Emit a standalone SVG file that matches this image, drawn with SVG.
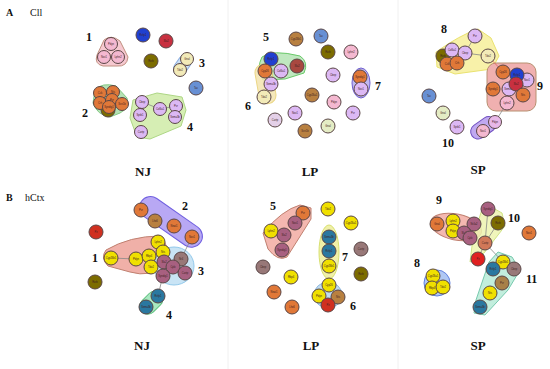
<svg xmlns="http://www.w3.org/2000/svg" width="550" height="369" viewBox="0 0 550 369">
<style>
.n circle{stroke:#5a4646;stroke-width:1}
.n text{font-family:"Liberation Sans",sans-serif;font-size:2.6px;fill:#402020;text-anchor:middle}
.pk{fill:#f4b8d0}.lv{fill:#dcb8f4}.or{fill:#e07838}.ol{fill:#7c6c00}.db{fill:#2040d0}.rd{fill:#c83040}
.yl{fill:#f0e000}.py{fill:#f2eab8}.mv{fill:#a86080}.tl{fill:#2a78a0}.sb{fill:#6890d4}.br{fill:#b88040}
.gr{fill:#e4ecc4}.gm{fill:#987878}.rr{fill:#e02020}
.lbl{font-family:"Liberation Serif",serif;font-weight:bold;font-size:12px;fill:#111}
.ttl{font-family:"Liberation Serif",serif;font-weight:bold;font-size:13px;fill:#111;text-anchor:middle}
.pan{font-family:"Liberation Serif",serif;font-size:10px;fill:#111}
.hull{stroke-width:1}
.conn line{stroke:#888;stroke-width:0.8}
</style>
<rect width="550" height="369" fill="#fff"/>
<line x1="228" y1="0" x2="228" y2="369" stroke="#f0f0f0"/>
<line x1="398" y1="0" x2="398" y2="369" stroke="#f0f0f0"/>
<text class="pan" x="6" y="16" font-weight="bold">A</text><text class="pan" x="30" y="16">Cll</text>
<text class="pan" x="6" y="201" font-weight="bold">B</text><text class="pan" x="25" y="201">hCtx</text>
<g id="hulls">
<path class="hull" d="M104,40 Q111,34 120,41 L128,57 Q127,67 117,66 L103,66 Q94,64 97,55 Z" fill="#f6c8d0" stroke="#c09080"/>
<rect class="hull" x="176" y="54" width="13" height="22" rx="6.5" transform="rotate(35 182 65)" fill="#cce0f4" stroke="#90b0e0"/>
<path class="hull" d="M95,90 Q102,82 116,86 L127,98 Q130,108 120,113 L110,117 Q97,115 93,103 Z" fill="#a8dca8" stroke="#70c070" opacity="0.85"/>
<path class="hull" d="M133,100 L157,93 L182,97 L186,110 L181,126 L150,139 L137,137 L130,118 Z" fill="#d0eca8" stroke="#a0d070" opacity="0.85"/>
<path class="hull" d="M262,57 Q272,49 300,56 Q309,62 304,73 L285,79 L263,80 Q256,68 262,57 Z" fill="#b4e4b4" stroke="#50c050" opacity="0.85"/>
<rect class="hull" x="257" y="64" width="17" height="40" rx="8.5" transform="rotate(-10 265 84)" fill="#f4e4b0" stroke="#e8d070" opacity="0.85"/>
<ellipse class="hull" cx="361" cy="83" rx="9" ry="15" fill="#c0b8f0" stroke="#7060d0"/>
<path class="hull" d="M436,52 Q460,35 478,29 L491,38 L499,56 L492,69 L455,74 L437,67 Z" fill="#f8f0a0" stroke="#e8e060" opacity="0.9"/>
<rect class="hull" x="487" y="63" width="49" height="48" rx="9" fill="#f0b0b0" stroke="#b89070"/>
<rect class="hull" x="479" y="118" width="15" height="28" rx="7.5" transform="rotate(55 489 127)" fill="#c0a8f0" stroke="#7050c0"/>
<rect class="hull" x="160" y="190" width="22" height="72" rx="11" transform="rotate(-55 167 224)" fill="#b8a8f4" stroke="#7060e0"/>
<path class="hull" d="M106,250 Q130,236 160,236 Q170,245 168,265 Q150,278 130,272 L108,266 Q100,258 106,250 Z" fill="#f0b0a8" stroke="#c08070"/>
<ellipse class="hull" cx="174" cy="266" rx="20" ry="19" fill="#c0e0f4" stroke="#80c0e8" opacity="0.85"/>
<rect class="hull" x="144" y="290" width="16" height="26" rx="8" transform="rotate(45 152 302)" fill="#a8e8c0" stroke="#60c080"/>
<path class="hull" d="M263,233 Q282,210 300,205 L311,208 L311,219 L287,257 Q278,262 268,249 Z" fill="#f4b8b0" stroke="#c08070"/>
<ellipse class="hull" cx="329" cy="252" rx="10" ry="27" fill="#f0f0a8" stroke="#d8e070"/>
<ellipse class="hull" cx="328" cy="295" rx="14" ry="13" fill="#c0dcf0" stroke="#90b8e0"/>
<ellipse class="hull" cx="456" cy="227" rx="26" ry="13" transform="rotate(12 456 227)" fill="#f4b8b0" stroke="#c08070"/>
<path class="hull" d="M484,203 L502,213 L505,226 L484,253 L470,262 L473,238 Z" fill="#eef4b0" stroke="#c8e070" opacity="0.85"/>
<ellipse class="hull" cx="437" cy="283" rx="13" ry="13" fill="#b0c8f4" stroke="#6080e0"/>
<path class="hull" d="M498,252 L512,257 L520,270 L508,290 L485,315 L474,313 L476,300 L489,262 Z" fill="#b8ecd8" stroke="#60c0a0" opacity="0.85"/>
</g>
<g class="conn" id="connectors">
<line x1="142" y1="102" x2="160" y2="109"/><line x1="160" y1="109" x2="176" y2="106"/>
<line x1="465" y1="53" x2="475" y2="36"/><line x1="465" y1="53" x2="488" y2="56"/>
<line x1="488" y1="56" x2="503" y2="72" style="stroke:#e06060"/>
<line x1="495" y1="122" x2="507" y2="103"/>
<line x1="111" y1="258" x2="136" y2="259"/>
<line x1="163" y1="275" x2="158" y2="296"/>
<line x1="192" y1="237" x2="181" y2="259"/>
<line x1="498" y1="223" x2="485" y2="243"/><line x1="485" y1="243" x2="478" y2="259"/>
<line x1="485" y1="243" x2="503" y2="262"/><line x1="488" y1="209" x2="485" y2="243"/>
</g>
<g class="n" id="a-nj-pdyn"><circle cx="111" cy="44" r="6.5" class="pk"/><text x="111" y="45">Pdyn</text></g>
<g class="n" id="a-nj-nov1"><circle cx="104" cy="57" r="6.5" class="pk"/><text x="104" y="58">Nov1</text></g>
<g class="n" id="a-nj-sdr"><circle cx="118" cy="57" r="6.5" class="pk"/><text x="118" y="58">Lphn2</text></g>
<g class="n" id="a-nj-blue"><circle cx="143" cy="35" r="7" class="db"/><text x="143" y="36">Rxfp1</text></g>
<g class="n" id="a-nj-red"><circle cx="166" cy="41" r="7" class="rd"/><text x="166" y="42">Sla2</text></g>
<g class="n" id="a-nj-olive"><circle cx="151" cy="61" r="7" class="ol"/><text x="151" y="62">Rorb</text></g>
<g class="n" id="a-nj-g3a"><circle cx="187" cy="59" r="6.5" class="py"/><text x="187" y="60">Gnal</text></g>
<g class="n" id="a-nj-g3b"><circle cx="180" cy="70" r="6.5" class="py"/><text x="180" y="71">Tdo2</text></g>
<g class="n" id="a-nj-tac"><circle cx="196" cy="88" r="7" class="sb"/><text x="196" y="89">Tac</text></g>
<g class="n" id="a-nj-o6"><circle cx="108" cy="110" r="7" class="ol"/></g>
<g class="n" id="a-nj-o1"><circle cx="100" cy="93" r="6.5" class="or"/><text x="100" y="94">Cck</text></g>
<g class="n" id="a-nj-o2"><circle cx="113" cy="92" r="6.5" class="or"/><text x="113" y="93">Nts</text></g>
<g class="n" id="a-nj-o3"><circle cx="100" cy="103" r="6.5" class="or"/><text x="100" y="104">Crh</text></g>
<g class="n" id="a-nj-o4"><circle cx="112" cy="100" r="6.5" class="or"/><text x="112" y="101">Pvr</text></g>
<g class="n" id="a-nj-o5"><circle cx="122" cy="104" r="6.5" class="or"/><text x="122" y="105">Scn1b</text></g>
<g class="n" id="a-nj-o7"><circle cx="109" cy="107" r="6.5" class="or"/><text x="109" y="108">Syndig1</text></g>
<g class="n" id="a-nj-l1"><circle cx="142" cy="102" r="6.5" class="lv"/><text x="142" y="103">Cbep</text></g>
<g class="n" id="a-nj-l2"><circle cx="140" cy="115" r="6.5" class="lv"/><text x="140" y="116">Sptb1</text></g>
<g class="n" id="a-nj-l3"><circle cx="141" cy="132" r="6.5" class="lv"/><text x="141" y="133">Cartp</text></g>
<g class="n" id="a-nj-l4"><circle cx="160" cy="109" r="6.5" class="lv"/><text x="160" y="110">Col6a1</text></g>
<g class="n" id="a-nj-l5"><circle cx="176" cy="106" r="6.5" class="lv"/><text x="176" y="107">Pvr</text></g>
<g class="n" id="a-nj-l6"><circle cx="175" cy="117" r="6.5" class="lv"/><text x="175" y="118">Sema3b</text></g>
<g class="n" id="a-lp-1"><circle cx="296" cy="39" r="7" class="br"/><text x="296" y="40">Cyp26b1</text></g>
<g class="n" id="a-lp-2"><circle cx="321" cy="36" r="7" class="sb"/><text x="321" y="37">Tac</text></g>
<g class="n" id="a-lp-3"><circle cx="328" cy="52" r="7" class="ol"/><text x="328" y="53">Rorb</text></g>
<g class="n" id="a-lp-4"><circle cx="351" cy="52" r="7" class="pk"/><text x="351" y="53">Lphn2</text></g>
<g class="n" id="a-lp-5"><circle cx="271" cy="59" r="7" class="db"/><text x="271" y="60">Rxfp1</text></g>
<g class="n" id="a-lp-6"><circle cx="297" cy="66" r="7" class="rd" style="fill:#a84840"/><text x="297" y="67">Sla2</text></g>
<g class="n" id="a-lp-7"><circle cx="265" cy="71" r="7" class="or"/><text x="265" y="72">Cyp26</text></g>
<g class="n" id="a-lp-8"><circle cx="281" cy="71" r="7" class="lv"/><text x="281" y="72">Col6a1</text></g>
<g class="n" id="a-lp-9"><circle cx="271" cy="84" r="7" class="lv"/><text x="271" y="85">Sema3b</text></g>
<g class="n" id="a-lp-10"><circle cx="264" cy="97" r="7" class="py"/><text x="264" y="98">Tdo2</text></g>
<g class="n" id="a-lp-11"><circle cx="333" cy="75" r="7" class="lv"/><text x="333" y="76">Cbep</text></g>
<g class="n" id="a-lp-12"><circle cx="360" cy="77" r="7" class="or"/><text x="360" y="78">Syndig1</text></g>
<g class="n" id="a-lp-13"><circle cx="361" cy="89" r="7" class="lv"/><text x="361" y="90">Nov1</text></g>
<g class="n" id="a-lp-14"><circle cx="312" cy="95" r="7" class="br"/><text x="312" y="96">Cyp26a1</text></g>
<g class="n" id="a-lp-15"><circle cx="334" cy="102" r="7" class="pk"/><text x="334" y="103">Pdyn</text></g>
<g class="n" id="a-lp-16"><circle cx="353" cy="113" r="7" class="lv"/><text x="353" y="114">Pvr</text></g>
<g class="n" id="a-lp-17"><circle cx="295" cy="113" r="7" class="lv"/><text x="295" y="114">Nov1</text></g>
<g class="n" id="a-lp-18"><circle cx="275" cy="120" r="7" class="lv" style="fill:#e4d0e8"/><text x="275" y="121">Cartp</text></g>
<g class="n" id="a-lp-19"><circle cx="305" cy="131" r="7" class="br"/><text x="305" y="132">Scn1b</text></g>
<g class="n" id="a-lp-20"><circle cx="328" cy="126" r="7" class="gr"/><text x="328" y="127">Gnal</text></g>
<g class="n" id="a-sp-1"><circle cx="475" cy="36" r="7" class="lv"/><text x="475" y="37">Pvr</text></g>
<g class="n" id="a-sp-o"><circle cx="443" cy="56" r="7" class="ol"/><text x="443" y="57">Rorb</text></g>
<g class="n" id="a-sp-2"><circle cx="452" cy="50" r="7" class="lv"/><text x="452" y="51">Col6a1</text></g>
<g class="n" id="a-sp-3"><circle cx="465" cy="53" r="7" class="lv"/><text x="465" y="54">Cbep</text></g>
<g class="n" id="a-sp-4"><circle cx="488" cy="56" r="7" class="py"/><text x="488" y="57">Tdo2</text></g>
<g class="n" id="a-sp-5"><circle cx="447" cy="64" r="7" class="or"/><text x="447" y="65">Cck</text></g>
<g class="n" id="a-sp-6"><circle cx="457" cy="63" r="7" class="or"/><text x="457" y="64">Crh</text></g>
<g class="n" id="a-sp-7"><circle cx="503" cy="72" r="7" class="or"/><text x="503" y="73">Cyp26</text></g>
<g class="n" id="a-sp-8"><circle cx="527" cy="80" r="7" class="lv"/><text x="527" y="81">Nov1</text></g>
<g class="n" id="a-sp-9"><circle cx="517" cy="75" r="7" class="db"/><text x="517" y="76">Rxfp1</text></g>
<g class="n" id="a-sp-10"><circle cx="493" cy="89" r="7" class="or"/><text x="493" y="90">Syndig1</text></g>
<g class="n" id="a-sp-11"><circle cx="509" cy="89" r="7" class="lv"/><text x="509" y="90">Sema3b</text></g>
<g class="n" id="a-sp-12"><circle cx="516" cy="84" r="7" class="rd"/><text x="516" y="85">Sla2</text></g>
<g class="n" id="a-sp-13"><circle cx="523" cy="95" r="7" class="or"/><text x="523" y="96">Nts</text></g>
<g class="n" id="a-sp-14"><circle cx="507" cy="103" r="7" class="pk"/><text x="507" y="104">Lphn2</text></g>
<g class="n" id="a-sp-15"><circle cx="429" cy="96" r="7" class="sb"/><text x="429" y="97">Tac</text></g>
<g class="n" id="a-sp-16"><circle cx="443" cy="113" r="7" class="gr"/><text x="443" y="114">Gnal</text></g>
<g class="n" id="a-sp-17"><circle cx="457" cy="127" r="7" class="lv"/><text x="457" y="128">Sptb1</text></g>
<g class="n" id="a-sp-18"><circle cx="495" cy="122" r="6.5" class="pk" style="fill:#e8b8e8"/><text x="495" y="123">Pdyn</text></g>
<g class="n" id="a-sp-19"><circle cx="483" cy="131" r="6.5" class="pk"/><text x="483" y="132">Nov1</text></g>
<g class="n" id="b-nj-r"><circle cx="96" cy="232" r="7" class="rd" style="fill:#d03020"/><text x="96" y="233">Pz</text></g>
<g class="n" id="b-nj-o"><circle cx="95" cy="282" r="7" class="ol"/><text x="95" y="283">Rorb</text></g>
<g class="n" id="b-nj-2a"><circle cx="141" cy="210" r="7" class="or"/><text x="141" y="211">Pvr</text></g>
<g class="n" id="b-nj-2b"><circle cx="155" cy="221" r="7" class="br"/><text x="155" y="222">Lhx6</text></g>
<g class="n" id="b-nj-2c"><circle cx="174" cy="226" r="7" class="or"/><text x="174" y="227">Nnat1</text></g>
<g class="n" id="b-nj-2d"><circle cx="192" cy="237" r="7" class="or"/><text x="192" y="238">Nov1</text></g>
<g class="n" id="b-nj-1a"><circle cx="111" cy="258" r="7" class="yl"/><text x="111" y="259">Cyp26b1</text></g>
<g class="n" id="b-nj-1b"><circle cx="136" cy="259" r="7" class="yl"/><text x="136" y="260">Pdyn</text></g>
<g class="n" id="b-nj-1c"><circle cx="158" cy="242" r="7" class="yl"/><text x="158" y="243">Lphn2</text></g>
<g class="n" id="b-nj-1d"><circle cx="163" cy="252" r="7" class="yl"/><text x="163" y="253">Nts</text></g>
<g class="n" id="b-nj-1e"><circle cx="149" cy="256" r="7" class="yl"/><text x="149" y="257">Rbp4</text></g>
<g class="n" id="b-nj-1f"><circle cx="151" cy="267" r="7" class="yl"/><text x="151" y="268">Tdo2</text></g>
<g class="n" id="b-nj-3a"><circle cx="181" cy="259" r="7" class="gm"/><text x="181" y="260">Nr4</text></g>
<g class="n" id="b-nj-3b"><circle cx="164" cy="262" r="7" class="mv"/><text x="164" y="263">Sla2</text></g>
<g class="n" id="b-nj-3c"><circle cx="173" cy="267" r="7" class="mv"/><text x="173" y="268">Cplx</text></g>
<g class="n" id="b-nj-3d"><circle cx="163" cy="276" r="7" class="mv"/><text x="163" y="277">Syndig1</text></g>
<g class="n" id="b-nj-3e"><circle cx="185" cy="273" r="7" class="mv"/><text x="185" y="274">Cartp</text></g>
<g class="n" id="b-nj-4a"><circle cx="158" cy="296" r="7" class="tl"/><text x="158" y="297">Rxfp1</text></g>
<g class="n" id="b-nj-4b"><circle cx="146" cy="307" r="7" class="tl"/><text x="146" y="308">Sema3b</text></g>
<g class="n" id="b-lp-1"><circle cx="303" cy="213" r="7" class="or"/><text x="303" y="214">Pvr</text></g>
<g class="n" id="b-lp-2"><circle cx="295" cy="223" r="7" class="mv"/><text x="295" y="224">Nov1</text></g>
<g class="n" id="b-lp-3"><circle cx="271" cy="231" r="7" class="yl"/><text x="271" y="232">Lphn2</text></g>
<g class="n" id="b-lp-4"><circle cx="284" cy="235" r="7" class="mv"/><text x="284" y="236">Sla2</text></g>
<g class="n" id="b-lp-5"><circle cx="282" cy="250" r="7" class="mv"/><text x="282" y="251">Syndig1</text></g>
<g class="n" id="b-lp-6"><circle cx="328" cy="209" r="7" class="yl"/><text x="328" y="210">Tdo2</text></g>
<g class="n" id="b-lp-7"><circle cx="351" cy="223" r="7" class="yl"/><text x="351" y="224">Cyp26a1</text></g>
<g class="n" id="b-lp-8"><circle cx="329" cy="237" r="7" class="tl"/><text x="329" y="238">Sema3b</text></g>
<g class="n" id="b-lp-9"><circle cx="329" cy="251" r="7" class="tl"/><text x="329" y="252">Rxfp1</text></g>
<g class="n" id="b-lp-10"><circle cx="329" cy="266" r="7" class="yl"/><text x="329" y="267">Cyp26b1</text></g>
<g class="n" id="b-lp-11"><circle cx="361" cy="249" r="7" class="gm"/><text x="361" y="250">Cartp</text></g>
<g class="n" id="b-lp-12"><circle cx="361" cy="274" r="7" class="ol"/><text x="361" y="275">Rorb</text></g>
<g class="n" id="b-lp-13"><circle cx="263" cy="267" r="7" class="gm"/><text x="263" y="268">Cbep</text></g>
<g class="n" id="b-lp-14"><circle cx="291" cy="277" r="7" class="yl"/><text x="291" y="278">Rbp4</text></g>
<g class="n" id="b-lp-15"><circle cx="274" cy="292" r="7" class="or"/><text x="274" y="293">Nnat1</text></g>
<g class="n" id="b-lp-16"><circle cx="292" cy="307" r="7" class="or"/><text x="292" y="308">Lhx6</text></g>
<g class="n" id="b-lp-17"><circle cx="329" cy="285" r="7" class="yl"/><text x="329" y="286">Cyp26</text></g>
<g class="n" id="b-lp-18"><circle cx="319" cy="296" r="7" class="yl"/><text x="319" y="297">Pdyn</text></g>
<g class="n" id="b-lp-19"><circle cx="338" cy="297" r="7" class="br"/><text x="338" y="298">Nts</text></g>
<g class="n" id="b-lp-20"><circle cx="328" cy="305" r="7" class="rd" style="fill:#d03020"/><text x="328" y="306">Pz</text></g>
<g class="n" id="b-sp-1"><circle cx="437" cy="224" r="7" class="or"/><text x="437" y="225">Gnal</text></g>
<g class="n" id="b-sp-2"><circle cx="453" cy="221" r="7" class="yl"/><text x="453" y="222">Lphn2</text></g>
<g class="n" id="b-sp-3"><circle cx="453" cy="231" r="7" class="yl"/><text x="453" y="232">Pdyn</text></g>
<g class="n" id="b-sp-4"><circle cx="474" cy="224" r="7" class="mv"/><text x="474" y="225">Nr4a2</text></g>
<g class="n" id="b-sp-5"><circle cx="464" cy="233" r="7" class="mv"/><text x="464" y="234">Sla2</text></g>
<g class="n" id="b-sp-6"><circle cx="470" cy="238" r="7" class="mv"/><text x="470" y="239">Cplx</text></g>
<g class="n" id="b-sp-7"><circle cx="488" cy="209" r="7" class="mv"/><text x="488" y="210">Syndig1</text></g>
<g class="n" id="b-sp-8"><circle cx="498" cy="223" r="7" class="ol"/><text x="498" y="224">Rorb</text></g>
<g class="n" id="b-sp-9"><circle cx="529" cy="233" r="7" class="or"/><text x="529" y="234">Nov1</text></g>
<g class="n" id="b-sp-10"><circle cx="485" cy="243" r="7" class="or" style="fill:#d07858"/><text x="485" y="244">Cartp</text></g>
<g class="n" id="b-sp-11"><circle cx="478" cy="259" r="7" class="rr"/><text x="478" y="260">Pz</text></g>
<g class="n" id="b-sp-12"><circle cx="433" cy="276" r="7" class="yl"/><text x="433" y="277">Cyp26a1</text></g>
<g class="n" id="b-sp-13"><circle cx="432" cy="288" r="7" class="yl"/><text x="432" y="289">Rbp4</text></g>
<g class="n" id="b-sp-14"><circle cx="443" cy="287" r="7" class="yl"/><text x="443" y="288">Tdo2</text></g>
<g class="n" id="b-sp-15"><circle cx="503" cy="262" r="7" class="yl"/><text x="503" y="263">Cyp26b1</text></g>
<g class="n" id="b-sp-16"><circle cx="493" cy="269" r="7" class="tl"/><text x="493" y="270">Rxfp1</text></g>
<g class="n" id="b-sp-17"><circle cx="514" cy="269" r="7" class="gm"/><text x="514" y="270">Cbep</text></g>
<g class="n" id="b-sp-18"><circle cx="502" cy="283" r="7" class="br" style="fill:#a88048"/><text x="502" y="284">Pvr</text></g>
<g class="n" id="b-sp-19"><circle cx="490" cy="293" r="7" class="yl"/><text x="490" y="294">Nts</text></g>
<g class="n" id="b-sp-20"><circle cx="480" cy="307" r="7" class="tl"/><text x="480" y="308">Sema3b</text></g>
<g id="labels">
<text class="lbl" x="86" y="41">1</text><text class="lbl" x="82" y="117">2</text><text class="lbl" x="199" y="67">3</text><text class="lbl" x="187" y="131">4</text>
<text class="lbl" x="263" y="41">5</text><text class="lbl" x="245" y="110">6</text><text class="lbl" x="375" y="90">7</text>
<text class="lbl" x="441" y="33">8</text><text class="lbl" x="537" y="90">9</text><text class="lbl" x="442" y="147">10</text>
<text class="lbl" x="182" y="210">2</text><text class="lbl" x="92" y="262">1</text><text class="lbl" x="198" y="275">3</text><text class="lbl" x="166" y="319">4</text>
<text class="lbl" x="270" y="210">5</text><text class="lbl" x="342" y="261">7</text><text class="lbl" x="350" y="310">6</text>
<text class="lbl" x="436" y="204">9</text><text class="lbl" x="508" y="222">10</text><text class="lbl" x="414" y="267">8</text><text class="lbl" x="526" y="283">11</text>
<text class="ttl" x="143" y="176">NJ</text><text class="ttl" x="310" y="176">LP</text><text class="ttl" x="478" y="174">SP</text>
<text class="ttl" x="142" y="350">NJ</text><text class="ttl" x="311" y="350">LP</text><text class="ttl" x="478" y="350">SP</text>
</g>
</svg>
